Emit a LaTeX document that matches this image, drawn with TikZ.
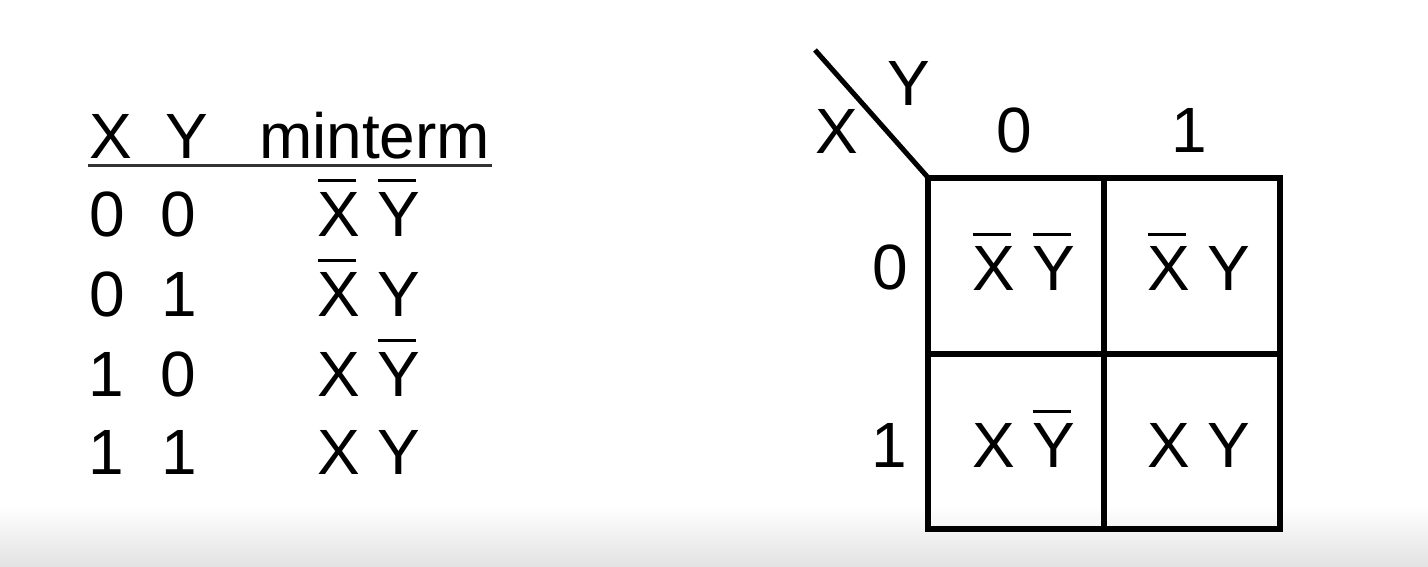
\documentclass[tikz,border=0pt]{standalone}
\usepackage{fontspec}
\setmainfont{Liberation Sans}
\newcommand\ovl[1]{\makebox[0pt][l]{\hspace{0.5pt}\rule[54pt]{38.5pt}{2.7pt}}#1}
\tikzset{
  txt/.style={font=\fontsize{64}{70}\selectfont, inner sep=0pt, outer sep=0pt, anchor=base west},
  gridline/.style={line width=6pt, line join=miter},
  diagline/.style={line width=5pt},
  ruleline/.style={line width=3pt, draw=black!80}
}
\begin{document}
\begin{tikzpicture}[x=1pt,y=-1pt]
\useasboundingbox (0,0) rectangle (1428,566);
\fill[white] (0,0) rectangle (1428,566);
\shade[top color=white, bottom color=black!11] (0,505) rectangle (1428,566);

% truth table
\node[txt] (hx) at (89,158) {X};
\node[txt] (hy) at (165,158) {Y};
\node[txt] (hm) at (259,158) {minterm};
\coordinate (ul) at (88,165);
\coordinate (ur) at (492,165);
\draw[ruleline] (ul) -- (ur);

\node[txt] (r1a) at (89,236) {0};
\node[txt] (r1b) at (160,236) {0};
\node[txt] (r1m) at (317,236) {\ovl{X} \ovl{Y}};
\node[txt] (r2a) at (89,316) {0};
\node[txt] (r2b) at (161,316) {1};
\node[txt] (r2m) at (317,316) {\ovl{X} Y};
\node[txt] (r3a) at (88,396) {1};
\node[txt] (r3b) at (160,396) {0};
\node[txt] (r3m) at (317,396) {X \ovl{Y}};
\node[txt] (r4a) at (88,474) {1};
\node[txt] (r4b) at (161,474) {1};
\node[txt] (r4m) at (317,474) {X Y};

% K-map
\coordinate (tl) at (928,177.5);
\coordinate (tr) at (1280,177.5);
\coordinate (bl) at (928,529);
\coordinate (br) at (1280,529);
\coordinate (tm) at (1103.5,177.5);
\coordinate (bm) at (1103.5,529);
\coordinate (lm) at (928,354);
\coordinate (rm) at (1280,354);
\coordinate (dstart) at (815,50);
\draw[gridline] (tl) -- (tr) -- (br) -- (bl) -- cycle;
\draw[gridline] (tm) -- (bm);
\draw[gridline] (lm) -- (rm);
\draw[diagline] (dstart) -- (tl);

\node[txt] (ky) at (887,105) {Y};
\node[txt] (kx) at (815,153) {X};
\node[txt] (c0) at (996,152) {0};
\node[txt] (c1) at (1171,152) {1};
\node[txt] (w0) at (872,289) {0};
\node[txt] (w1) at (871,467) {1};

\node[txt] (m00) at (972,290) {\ovl{X} \ovl{Y}};
\node[txt] (m01) at (1147,290) {\ovl{X} Y};
\node[txt] (m10) at (972,467) {X \ovl{Y}};
\node[txt] (m11) at (1147,467) {X Y};
\end{tikzpicture}
\end{document}
